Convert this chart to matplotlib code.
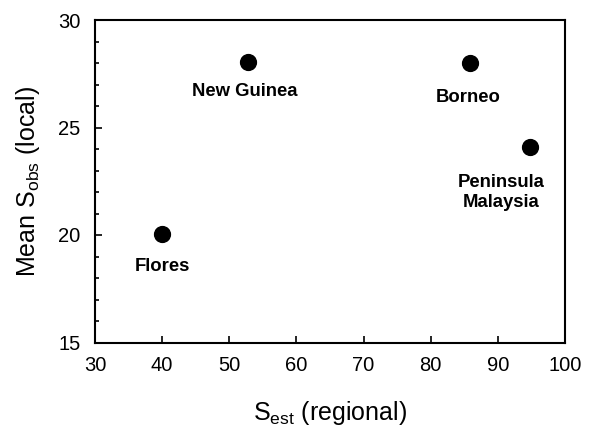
import matplotlib
matplotlib.use("Agg")
import matplotlib.pyplot as plt
from matplotlib.ticker import MultipleLocator

# regional estimated richness vs mean local observed richness
regions = ["Flores", "New Guinea", "Borneo", "Peninsula\nMalaysia"]
s_est = [40, 52.8, 85.9, 94.8]
s_obs = [20.05, 28.05, 28.0, 24.07]
# label offsets in pixels from each point
offsets = [(0, -33), (-3, -30), (-2, -34), (-29, -45)]

plt.rcParams['font.family'] = ['Liberation Sans', 'DejaVu Sans']

fig = plt.figure(figsize=(5.9, 4.28), dpi=100)
ax = fig.add_axes([95 / 590, 1 - 342.5 / 428, 470 / 590, 322.5 / 428])

ax.scatter(s_est, s_obs, s=130, color="black", zorder=3)
for name, x, y, off in zip(regions, s_est, s_obs, offsets):
    ax.annotate(name, (x, y), xytext=off, textcoords="offset pixels",
                ha="center", va="center", multialignment="center",
                fontsize=13.3, fontweight="bold")

ax.set_xlim(30, 100)
ax.set_ylim(15, 30)
ax.xaxis.set_major_locator(MultipleLocator(10))
ax.yaxis.set_major_locator(MultipleLocator(5))
ax.yaxis.set_minor_locator(MultipleLocator(1))
ax.tick_params(which="both", direction="in", top=False, right=False,
               labelsize=14.5, width=1.2)
ax.tick_params(which="major", length=5)
ax.tick_params(which="minor", length=3)
ax.tick_params(axis="x", which="major", pad=10)
ax.tick_params(axis="y", which="major", pad=10.5)
for sp in ax.spines.values():
    sp.set_linewidth(1.5)

ax.set_xlabel("S$_{\\mathregular{est}}$ (regional)", fontsize=18)
ax.set_ylabel("Mean S$_{\\mathregular{obs}}$ (local)", fontsize=18)
ax.xaxis.set_label_coords(0.5, -0.175)
ax.yaxis.set_label_coords(-0.113, 0.5)

fig.savefig("out.png", dpi=100)
